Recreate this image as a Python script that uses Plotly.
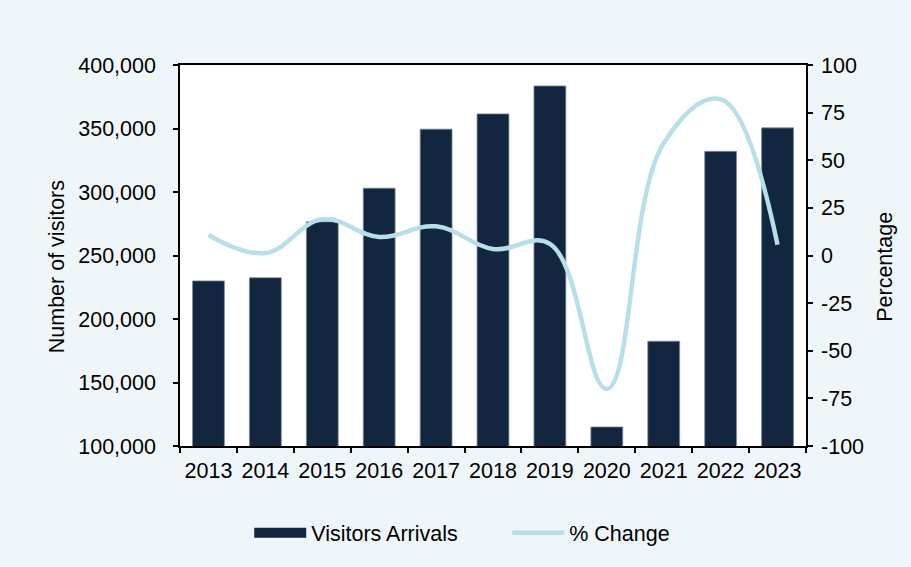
import plotly.graph_objects as go

years = ["2013", "2014", "2015", "2016", "2017", "2018", "2019", "2020", "2021", "2022", "2023"]
arrivals = [230000, 232500, 276500, 303000, 349500, 361500, 383500, 115000, 182500, 332000, 350500]
pct_change = [10.8, 1.3, 19.0, 9.7, 15.3, 3.4, 6.1, -70.0, 59.0, 82.0, 5.6]

left_ticks = [100000, 150000, 200000, 250000, 300000, 350000, 400000]
right_ticks = [-100, -75, -50, -25, 0, 25, 50, 75, 100]
right_labels = [str(v) for v in right_ticks]

NAVY = "#12263f"
LIGHT = "#b7dfe8"
BG = "#eff6f9"
FONT = "Liberation Sans, Arial, sans-serif"
FS = 21.5

fig = go.Figure()

fig.add_trace(go.Bar(
    x=years, y=arrivals, name="Visitors Arrivals",
    marker=dict(color=NAVY, line=dict(color="#7d8ca0", width=0.8)),
    showlegend=False, yaxis="y",
))

fig.add_trace(go.Scatter(
    x=years, y=pct_change, name="% Change", mode="lines",
    line=dict(color=LIGHT, width=4.5, shape="spline", smoothing=1.15),
    yaxis="y2", showlegend=False,
))

# legend entries drawn as line keys so the bar key is a wide bar
fig.add_trace(go.Scatter(
    x=[None], y=[None], name="Visitors Arrivals", mode="lines",
    line=dict(color=NAVY, width=10), yaxis="y",
))
fig.add_trace(go.Scatter(
    x=[None], y=[None], name="% Change", mode="lines",
    line=dict(color=LIGHT, width=4.5), yaxis="y2",
))

axis_common = dict(
    showline=True, linecolor="#000000", linewidth=1.5,
    ticks="outside", ticklen=5, tickwidth=1.5, tickcolor="#000000",
    showgrid=False, zeroline=False,
    tickfont=dict(family=FONT, size=FS, color="#000000"),
)

fig.update_layout(
    width=911, height=567,
    margin=dict(l=180, r=105, t=65, b=121, autoexpand=False),
    paper_bgcolor=BG, plot_bgcolor="#ffffff",
    font=dict(family=FONT, size=FS, color="#000000"),
    bargap=0.44,
    xaxis=dict(type="category", tickson="boundaries", mirror=True, tickangle=0,
               ticklabelstandoff=4, **axis_common),
    yaxis=dict(range=[100000, 400000], tickvals=left_ticks, tickformat=",",
               ticklabelstandoff=13, **axis_common),
    yaxis2=dict(range=[-100, 100], tickvals=right_ticks, ticktext=right_labels,
                overlaying="y", side="right", ticklabelstandoff=4, **axis_common),
    legend=dict(orientation="h", x=0.1106, xanchor="left", y=-0.228, yanchor="middle",
                bgcolor="rgba(0,0,0,0)", font=dict(family=FONT, size=FS),
                itemwidth=52, entrywidth=191, entrywidthmode="pixels",
                tracegroupgap=0),
    annotations=[
        dict(text="Number of visitors", textangle=-90, xref="paper", yref="paper",
             x=-0.196, y=0.47, xanchor="center", yanchor="middle", showarrow=False,
             font=dict(family=FONT, size=FS, color="#000000")),
        dict(text="Percentage", textangle=-90, xref="paper", yref="paper",
             x=1.126, y=0.47, xanchor="center", yanchor="middle", showarrow=False,
             font=dict(family=FONT, size=FS, color="#000000")),
    ],
)

fig.write_html("out.html")
